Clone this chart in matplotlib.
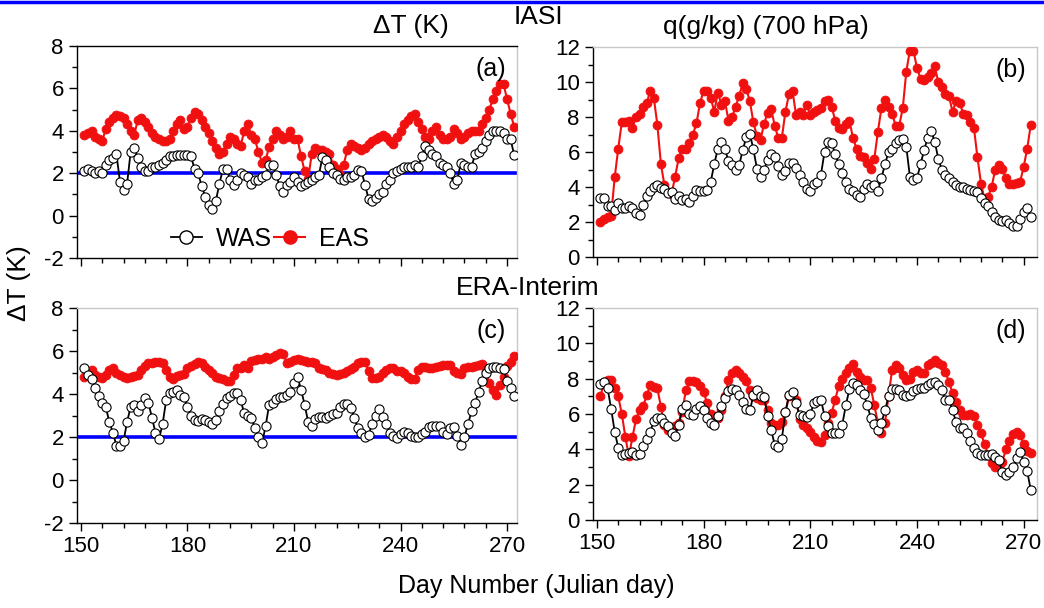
import numpy as np
import matplotlib
matplotlib.use("Agg")
import matplotlib.pyplot as plt
from matplotlib.lines import Line2D
from matplotlib.ticker import MultipleLocator

plt.rcParams['font.family'] = ['Liberation Sans', 'DejaVu Sans']
plt.rcParams['axes.unicode_minus'] = False

days = np.arange(151, 273)

was_a = [2.1, 2.2, 2.1, 2.0, 2.1, 2.0, 2.4, 2.6, 2.7, 2.9,
         1.6, 1.2, 1.5, 3.0, 3.2, 2.7, 2.3, 2.1, 2.1, 2.3,
         2.3, 2.4, 2.5, 2.6, 2.8, 2.8, 2.85, 2.85, 2.85, 2.85,
         2.8, 2.2, 2.0, 1.4, 0.9, 0.5, 0.3, 0.7, 1.5, 2.2,
         2.2, 1.7, 1.45, 1.7, 2.0, 1.9, 1.8, 1.5, 1.7, 1.7,
         1.8, 1.9, 2.4, 2.4, 1.9, 1.4, 1.1, 1.45, 1.6, 1.8,
         1.6, 1.4, 1.5, 1.6, 1.7, 1.8, 1.9, 2.75, 2.6, 2.3,
         2.0, 1.9, 1.75, 1.7, 1.8, 1.8, 1.9, 2.15, 2.1, 1.45,
         0.8, 0.7, 0.85, 1.0, 1.1, 1.5, 1.7, 2.0, 2.1, 2.2,
         2.3, 2.3, 2.3, 2.4, 2.3, 2.8, 3.3, 3.1, 2.9, 2.8,
         2.5, 2.4, 2.3, 2.0, 1.5, 1.7, 2.5, 2.4, 2.3, 2.3,
         2.9, 3.0, 3.2, 3.5, 3.8, 4.0, 4.0, 4.0, 3.9, 3.6,
         3.6, 2.85]
eas_a = [3.8, 3.9, 4.0, 3.7, 3.6, 3.5, 4.1, 4.4, 4.6, 4.75,
         4.7, 4.6, 4.3, 4.0, 3.8, 4.5, 4.6, 4.4, 4.2, 3.9,
         3.7, 3.6, 3.5, 3.5, 3.6, 4.0, 4.3, 4.5, 4.1, 4.2,
         4.6, 4.9, 4.8, 4.5, 4.2, 3.9, 3.5, 3.2, 2.9, 3.0,
         3.4, 3.7, 3.6, 3.4, 3.3, 4.0, 4.3, 3.8, 3.6, 3.0,
         2.5, 2.6, 3.25, 3.6, 4.0, 3.8, 3.6, 3.7, 4.0, 3.6,
         3.6, 2.8, 2.1, 1.75, 2.9, 3.2, 3.1, 3.1, 3.0, 2.9,
         2.4, 2.2, 1.9, 2.4, 3.1, 3.4, 3.3, 3.2, 3.1, 3.2,
         3.4, 3.5, 3.6, 3.7, 3.8, 3.7, 3.5, 3.4, 3.7, 4.0,
         4.3, 4.5, 4.7, 4.8, 4.4, 4.1, 3.7, 3.6, 4.0, 4.2,
         3.8, 3.6, 3.6, 3.7, 4.1, 3.9, 3.6, 3.7, 3.9, 4.0,
         4.0, 4.0, 4.3, 4.6, 5.0, 5.5, 5.9, 6.2, 6.2, 5.5,
         4.8, 4.2]
was_b = [3.4, 3.4, 2.9, 2.9, 2.7, 3.1, 2.8, 2.8, 2.9, 2.8,
         2.5, 2.4, 3.0, 3.5, 3.8, 4.0, 4.1, 3.95, 3.9, 3.65,
         3.7, 3.3, 3.5, 3.25, 3.3, 3.15, 3.5, 3.85, 3.8, 3.8,
         3.85, 4.3, 5.3, 6.2, 6.6, 6.15, 5.5, 5.25, 5.0, 5.25,
         6.1, 6.85, 7.05, 6.15, 5.05, 4.6, 5.0, 5.55, 5.9, 5.7,
         5.2, 4.7, 4.9, 5.4, 5.4, 5.1, 4.7, 4.3, 3.9, 3.8,
         4.2, 4.3, 4.7, 6.0, 6.6, 6.5, 5.9, 5.3, 4.8, 4.3,
         3.9, 3.75, 3.55, 3.45, 3.9, 4.2, 4.0, 4.1, 3.75, 4.5,
         5.3, 6.0, 6.2, 6.5, 6.7, 6.75, 6.3, 4.6, 4.4, 4.5,
         5.3, 6.1, 6.8, 7.2, 6.6, 5.6, 5.0, 4.7, 4.5, 4.3,
         4.1, 4.0, 4.0, 3.9, 3.85, 3.8, 3.7, 3.4, 3.1, 2.9,
         2.6, 2.3, 2.1, 2.05, 2.1, 1.95, 1.8, 1.75, 2.2, 2.6,
         2.8, 2.3]
eas_b = [2.0, 2.2, 2.3, 2.35, 4.55, 6.2, 7.7, 7.7, 7.8, 7.4,
         8.0, 8.15, 8.6, 8.8, 9.5, 9.1, 7.55, 5.3, 4.1, 3.7,
         3.6, 4.6, 5.65, 6.2, 6.2, 6.5, 7.0, 7.65, 8.8, 9.5,
         9.5, 9.1, 8.3, 9.4, 8.7, 8.9, 7.8, 8.0, 8.6, 9.2,
         9.95, 9.6, 8.9, 7.7, 6.9, 6.7, 7.6, 8.25, 8.45, 7.5,
         6.8, 6.8, 8.3, 9.3, 9.5, 8.1, 8.3, 8.1, 8.7, 8.1,
         8.3, 8.4, 8.5, 8.9, 9.0, 8.6, 7.8, 7.35, 7.3, 7.6,
         7.8, 6.8, 6.2, 5.75, 5.7, 5.35, 5.05, 5.6, 7.15, 8.5,
         9.0, 8.6, 8.2, 7.5, 7.5, 8.5, 10.6, 11.8, 11.8, 10.8,
         10.2, 10.1, 10.3, 10.5, 10.9, 10.0, 9.7, 9.3, 9.2, 8.3,
         8.9, 8.8, 8.2, 8.1, 7.7, 7.4, 5.7, 4.2, 3.3, 3.45,
         4.0, 5.0, 5.25, 5.05, 4.5, 4.2, 4.2, 4.25, 4.3, 5.15,
         6.2, 7.55]
was_c = [5.2, 4.9, 4.7, 4.3, 3.9, 3.6, 3.4, 2.7, 2.2, 1.6,
         1.6, 1.8, 2.7, 3.4, 3.5, 3.2, 3.5, 3.8, 3.6, 2.9,
         2.2, 1.9, 2.6, 3.7, 4.05, 4.1, 4.2, 3.95, 3.85, 3.4,
         3.0, 2.8, 2.75, 2.85, 2.8, 2.7, 2.6, 2.8, 3.2, 3.55,
         3.8, 3.9, 4.05, 4.05, 3.7, 3.1, 3.0, 2.9, 2.4, 2.0,
         1.7, 2.5, 3.5, 3.6, 3.75, 3.85, 3.85, 3.95, 4.1, 4.5,
         4.8, 4.2, 3.5, 2.7, 2.5, 2.85, 2.95, 2.95, 2.9, 3.0,
         3.05, 3.1, 3.4, 3.55, 3.55, 3.35, 2.9, 2.4, 2.2, 2.0,
         2.1, 2.6, 3.0, 3.3, 2.95, 2.6, 2.2, 2.05, 1.95, 2.15,
         2.25, 2.2, 2.05, 2.0, 2.0, 2.15, 2.25, 2.45, 2.5, 2.5,
         2.5, 2.25, 2.15, 2.4, 2.45, 2.05, 1.65, 2.0, 2.6, 3.2,
         3.6, 4.1, 4.6, 5.0, 5.2, 5.25, 5.25, 5.2, 5.15, 4.6,
         4.3, 3.9]
eas_c = [4.8, 4.9, 5.1, 4.9, 4.8, 4.75, 4.9, 5.1, 5.2, 5.0,
         4.9, 4.8, 4.75, 4.8, 4.85, 4.9, 5.1, 5.3, 5.45, 5.45,
         5.5, 5.5, 5.45, 5.1, 4.8, 4.7, 4.85, 4.9, 4.95, 5.2,
         5.3, 5.4, 5.5, 5.45, 5.25, 5.1, 5.0, 4.8, 4.75, 4.7,
         4.6, 4.6, 4.9, 5.2, 5.2, 5.35, 5.2, 5.55, 5.6, 5.65,
         5.65, 5.7, 5.65, 5.7, 5.8, 5.9, 5.85, 5.45, 5.5, 5.6,
         5.65, 5.6, 5.55, 5.5, 5.5, 5.45, 5.2, 5.15, 5.1, 5.0,
         4.95, 4.9, 4.95, 5.0, 5.05, 5.15, 5.25, 5.45, 5.5, 5.5,
         5.05, 4.75, 4.75, 4.8, 5.0, 5.1, 5.2, 5.2, 5.05, 5.05,
         5.0, 4.8, 4.7, 4.7, 5.1, 5.25, 5.25, 5.2, 5.2, 5.25,
         5.3, 5.35, 5.35, 5.35, 5.05, 5.0, 4.95, 5.2, 5.25, 5.25,
         5.3, 5.35, 5.4, 5.05, 4.5, 4.2, 3.95, 4.4, 4.8, 5.3,
         5.5, 5.75]
was_d = [7.7, 7.8, 7.45, 6.3, 5.0, 4.1, 3.7, 3.75, 3.8, 3.85,
         3.7, 3.75, 4.2, 4.6, 5.0, 5.6, 5.8, 5.8, 5.5, 5.3,
         4.9, 4.75, 5.4, 6.3, 6.5, 6.0, 5.95, 6.3, 6.45, 6.2,
         5.75, 5.5, 5.4, 5.9, 6.45, 6.9, 7.3, 7.4, 7.35, 7.1,
         6.7, 6.3, 6.2, 7.05, 7.35, 7.0, 6.95, 5.9, 5.1, 4.25,
         4.15, 4.6, 6.1, 7.05, 7.25, 6.6, 5.95, 5.9, 5.85, 6.0,
         6.6, 6.75, 6.8, 5.9, 5.3, 4.9, 4.9, 4.9, 5.4, 6.5,
         7.4, 7.75, 7.65, 7.35, 7.15, 6.5, 5.8, 5.45, 5.1, 5.5,
         6.2, 7.0, 7.4, 7.4, 7.35, 7.05, 7.0, 7.1, 7.3, 7.4,
         7.45, 7.5, 7.65, 7.75, 7.8, 7.65, 7.35, 6.8, 6.8, 6.2,
         5.55, 5.2, 5.2, 4.9, 4.5, 4.05, 3.8, 3.7, 3.7, 3.7,
         3.75, 3.55, 3.4, 2.7, 2.55, 2.7, 3.0, 3.5, 3.85, 3.3,
         2.75, 1.7]
eas_d = [7.0, 7.8, 7.9, 7.9, 7.45, 7.0, 6.0, 4.7, 3.6, 4.7,
         5.7, 6.2, 6.45, 7.05, 7.65, 7.55, 7.45, 6.4, 5.4, 5.1,
         5.2, 5.3, 5.5, 6.1, 7.35, 7.85, 7.85, 7.8, 7.6, 7.25,
         6.6, 6.0, 5.7, 5.75, 6.2, 7.0, 7.9, 8.3, 8.5, 8.3,
         8.1, 7.85, 7.35, 7.0, 6.9, 6.8, 6.8, 6.2, 5.5, 5.4,
         5.4, 5.55, 6.1, 7.0, 7.05, 6.8, 5.7, 5.4, 5.2, 5.0,
         4.7, 4.5, 4.4, 4.8, 5.5, 6.05, 6.8, 7.6, 8.0, 8.3,
         8.6, 8.85, 8.4, 8.1, 7.9, 7.9, 7.5, 6.5, 5.5, 4.9,
         5.5, 7.0, 8.5, 8.8, 8.6, 8.2, 7.9, 8.0, 8.4, 8.5,
         8.3, 8.3, 8.75, 8.9, 9.05, 8.9, 8.75, 8.4, 7.8, 7.2,
         6.7, 6.2, 5.95, 5.95, 6.0, 5.9, 5.4, 4.9, 4.3, 3.7,
         3.2, 3.0, 3.0, 3.3, 4.0, 4.5, 4.85, 5.0, 4.8, 4.3,
         3.9, 3.8]

for arr in (was_a, eas_a, was_b, eas_b, was_c, eas_c, was_d, eas_d):
    assert len(arr) == len(days), len(arr)

threshold = 2.0
panel_labels = ["(a)", "(b)", "(c)", "(d)"]
x_ticks = [150, 180, 210, 240, 270]

W, H = 1044, 608
fig = plt.figure(figsize=(W / 100, H / 100), dpi=100)


def px_axes(x0, y_top, x1, y_bot):
    return fig.add_axes([x0 / W, 1 - y_bot / H, (x1 - x0) / W, (y_bot - y_top) / H])


ax_a = px_axes(77, 46, 517, 258)
ax_b = px_axes(593, 47, 1037, 257)
ax_c = px_axes(77, 308, 517, 523)
ax_d = px_axes(593, 308, 1037, 520)

RED = '#f01010'
series = [(ax_a, was_a, eas_a), (ax_b, was_b, eas_b), (ax_c, was_c, eas_c), (ax_d, was_d, eas_d)]
for i, (ax, w, e) in enumerate(series):
    ax.plot(days, e, '-o', color=RED, lw=1.5, ms=6.4, mfc=RED, mec=RED, mew=0.6, zorder=3)
    ax.plot(days, w, '-o', color='black', lw=1.3, ms=6.6, mfc='white', mec='black', mew=0.8, zorder=4)
    if i in (0, 2):
        ax.axhline(threshold, color='#0000ff', lw=2.6, zorder=2)
        ax.set_ylim(-2, 8)
        ax.set_xlim(148.9, 272.8)
    else:
        ax.set_ylim(0, 12)
        ax.set_xlim(148.9, 273.75)
    ax.yaxis.set_major_locator(MultipleLocator(2))
    ax.yaxis.set_minor_locator(MultipleLocator(1))
    ax.set_xticks(x_ticks)
    ax.xaxis.set_minor_locator(MultipleLocator(6))
    ax.tick_params(axis='both', which='major', direction='out', length=6, width=1,
                   labelsize=16, colors='black', top=False, right=False)
    ax.tick_params(axis='both', which='minor', direction='out', length=3.5, width=1,
                   top=False, right=False)
    if i in (0, 1):
        ax.tick_params(axis='x', labelbottom=False)
    for s in ('top', 'right'):
        ax.spines[s].set_color('#c8c8c8')
        ax.spines[s].set_linewidth(1.0)
    for s in ('left', 'bottom'):
        ax.spines[s].set_linewidth(1.0)
    ax.text(0.975, 0.95, panel_labels[i], transform=ax.transAxes, ha='right', va='top',
            fontsize=18)

ax_a.spines['top'].set_color('black')

handles = [Line2D([], [], color='black', lw=1.3, marker='o', ms=9.5, mfc='white', mec='black'),
           Line2D([], [], color=RED, lw=1.5, marker='o', ms=9.5, mfc=RED, mec=RED)]
ax_a.legend(handles, ['WAS', 'EAS'], ncol=2, frameon=False, fontsize=18,
            loc='center left', bbox_to_anchor=(0.19, 0.09), handlelength=1.25,
            handletextpad=0.55, columnspacing=0.1, borderaxespad=0)

fig.text(411 / W, 1 - 26 / H, 'ΔT (K)', ha='center', va='center', fontsize=19)
fig.text(538 / W, 1 - 17 / H, 'IASI', ha='center', va='center', fontsize=19)
fig.text(766 / W, 1 - 27 / H, 'q(g/kg) (700 hPa)', ha='center', va='center', fontsize=19)
fig.text(528 / W, 1 - 288 / H, 'ERA-Interim', ha='center', va='center', fontsize=19)
fig.text(536 / W, 1 - 586 / H, 'Day Number (Julian day)', ha='center', va='center', fontsize=18)
fig.text(19 / W, 1 - 283 / H, 'ΔT (K)', ha='center', va='center', rotation=90, fontsize=19)

fig.add_artist(Line2D([0, 1], [1 - 2 / H, 1 - 2 / H], transform=fig.transFigure,
                      color='#0000ff', lw=2.5))

fig.savefig('out.png', dpi=100)
